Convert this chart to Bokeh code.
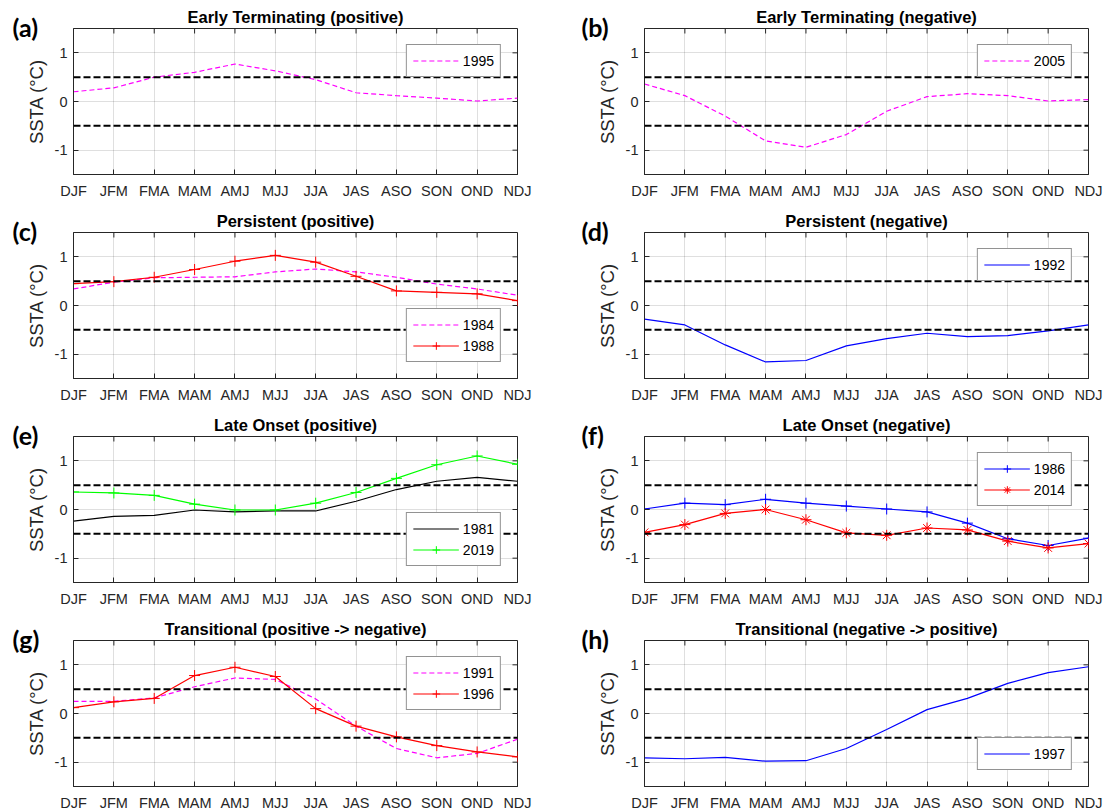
from bokeh.plotting import figure
from bokeh.layouts import gridplot
from bokeh.models import (Span, Legend, LegendItem, FixedTicker, Range1d, Title)
from bokeh.embed import file_html
from bokeh.resources import INLINE

# ---------------- data ----------------
months = ["DJF", "JFM", "FMA", "MAM", "AMJ", "MJJ",
          "JJA", "JAS", "ASO", "SON", "OND", "NDJ"]
month_idx = list(range(1, 13))
y_ticks = [-1, 0, 1]
thresholds = [0.5, -0.5]

ssta_1995 = [0.20, 0.28, 0.50, 0.60, 0.77, 0.63, 0.45, 0.18, 0.12, 0.07, 0.01, 0.07]
ssta_2005 = [0.36, 0.12, -0.30, -0.81, -0.94, -0.68, -0.20, 0.10, 0.16, 0.12, 0.01, 0.04]
ssta_1984 = [0.34, 0.48, 0.57, 0.58, 0.59, 0.69, 0.75, 0.69, 0.58, 0.44, 0.34, 0.21]
ssta_1988 = [0.45, 0.49, 0.58, 0.74, 0.91, 1.03, 0.89, 0.60, 0.30, 0.27, 0.24, 0.10]
ssta_1992 = [-0.28, -0.40, -0.81, -1.16, -1.13, -0.83, -0.68, -0.57, -0.64, -0.62, -0.52, -0.40]
ssta_1981 = [-0.24, -0.14, -0.12, -0.01, -0.05, -0.03, -0.03, 0.17, 0.41, 0.58, 0.66, 0.58]
ssta_2019 = [0.36, 0.34, 0.29, 0.11, -0.01, -0.01, 0.13, 0.35, 0.64, 0.92, 1.10, 0.93]
ssta_1986 = [0.01, 0.13, 0.10, 0.21, 0.13, 0.07, 0.01, -0.05, -0.28, -0.60, -0.74, -0.59]
ssta_2014 = [-0.47, -0.31, -0.08, 0.00, -0.21, -0.48, -0.53, -0.38, -0.42, -0.65, -0.79, -0.70]
ssta_1991 = [0.25, 0.25, 0.32, 0.55, 0.73, 0.70, 0.30, -0.26, -0.72, -0.91, -0.82, -0.53]
ssta_1996 = [0.12, 0.24, 0.31, 0.78, 0.95, 0.76, 0.10, -0.26, -0.48, -0.66, -0.79, -0.89]
ssta_1997 = [-0.91, -0.93, -0.90, -0.98, -0.97, -0.72, -0.33, 0.08, 0.31, 0.62, 0.84, 0.96]

# styles: (color, dash, marker)
MAG_DASH = ("#ff00ff", "5 3", None)
RED_PLUS = ("#ff0000", "solid", "cross")
RED_STAR = ("#ff0000", "solid", "asterisk")
BLUE = ("#0000ff", "solid", None)
BLUE_PLUS = ("#0000ff", "solid", "cross")
BLACK = ("#000000", "solid", None)
GREEN_PLUS = ("#00ff00", "solid", "cross")

panels = [
    ("(a)", "Early Terminating (positive)", [("1995", ssta_1995, MAG_DASH)], "top_right"),
    ("(b)", "Early Terminating (negative)", [("2005", ssta_2005, MAG_DASH)], "top_right"),
    ("(c)", "Persistent (positive)", [("1984", ssta_1984, MAG_DASH), ("1988", ssta_1988, RED_PLUS)], "bottom_right"),
    ("(d)", "Persistent (negative)", [("1992", ssta_1992, BLUE)], "top_right"),
    ("(e)", "Late Onset (positive)", [("1981", ssta_1981, BLACK), ("2019", ssta_2019, GREEN_PLUS)], "bottom_right"),
    ("(f)", "Late Onset (negative)", [("1986", ssta_1986, BLUE_PLUS), ("2014", ssta_2014, RED_STAR)], "top_right"),
    ("(g)", "Transitional (positive -> negative)", [("1991", ssta_1991, MAG_DASH), ("1996", ssta_1996, RED_PLUS)], "top_right"),
    ("(h)", "Transitional (negative -> positive)", [("1997", ssta_1997, BLUE)], "bottom_right"),
]

# ---------------- layout constants ----------------
FW, FH = 444, 146
X_MIN, X_MAX = 1, 12
Y_MIN, Y_MAX = -1.5, 1.5
AX = "#262626"
FONT = "Liberation Sans"
PX_X = FW / (X_MAX - X_MIN)
PX_Y = FH / (Y_MAX - Y_MIN)
TICK = 5


def make_panel(i, tag, title, series, legend_loc):
    col = i % 2
    row = i // 2
    last = row == 3
    left_border = 73 if col == 0 else 90
    p = figure(frame_width=FW, frame_height=FH,
               x_range=Range1d(X_MIN, X_MAX), y_range=Range1d(Y_MIN, Y_MAX),
               min_border_left=left_border,
               min_border_right=37 if col == 0 else 20,
               min_border_top=28, min_border_bottom=26 if last else 30,
               output_backend="svg", toolbar_location=None, tools="")
    p.background_fill_color = "white"
    p.border_fill_color = "white"
    p.outline_line_color = AX
    p.outline_line_width = 1
    p.title.text = ""

    # panel tag (inner, almost zero-height panel) and panel title (outer)
    p.add_layout(Title(text=tag, align="left", offset=-61 if col == 0 else -63,
                       vertical_align="middle", standoff=-28,
                       text_font="Lato", text_font_style="bold",
                       text_font_size="25px", text_color="#000000"), "above")
    p.add_layout(Title(text=title, align="center", vertical_align="bottom",
                       standoff=-3, text_font=FONT, text_font_style="bold",
                       text_font_size="16.5px", text_color="#000000"), "above")

    # axes
    xt = FixedTicker(ticks=month_idx)
    yt = FixedTicker(ticks=y_ticks)
    xa = p.xaxis[0]
    xa.ticker = xt
    xa.major_label_overrides = {m: lab for m, lab in zip(month_idx, months)}
    ya = p.yaxis[0]
    ya.ticker = yt
    ya.major_label_overrides = {v: str(v) for v in y_ticks}
    for ax in (xa, ya):
        ax.major_tick_in = TICK
        ax.major_tick_out = 0
        ax.minor_tick_line_color = None
        ax.axis_line_color = AX
        ax.major_tick_line_color = AX
        ax.major_label_text_color = AX
        ax.major_label_text_font = FONT
        ax.major_label_text_font_size = "14.5px"
    xa.major_label_standoff = 8
    ya.major_label_standoff = 6
    ya.axis_label = "SSTA (\u00b0C)"
    ya.axis_label_text_font = FONT
    ya.axis_label_text_font_size = "18.5px"
    ya.axis_label_text_font_style = "normal"
    ya.axis_label_text_color = AX
    ya.axis_label_standoff = 5

    # grid
    p.xgrid.ticker = xt
    p.ygrid.ticker = yt
    for g in (p.xgrid[0], p.ygrid[0]):
        g.grid_line_color = AX
        g.grid_line_alpha = 0.15

    # box ticks on top and right edges (inward)
    p.segment(x0=month_idx, y0=[Y_MAX] * len(month_idx),
              x1=month_idx, y1=[Y_MAX - TICK / PX_Y] * len(month_idx),
              line_color=AX, line_width=1)
    p.segment(x0=[X_MAX] * len(y_ticks), y0=y_ticks,
              x1=[X_MAX - TICK / PX_X] * len(y_ticks), y1=y_ticks,
              line_color=AX, line_width=1)

    # thresholds
    for t in thresholds:
        p.add_layout(Span(location=t, dimension="width", line_color="#000000",
                          line_width=2, line_dash="7 3"))

    items = []
    for name, vals, (color, dash, marker) in series:
        r = p.line(month_idx, vals, line_color=color, line_width=1.2, line_dash=dash)
        rs = [r]
        if marker is not None:
            s = p.scatter(month_idx, vals, marker=marker, size=11,
                          line_color=color, fill_color=None, line_width=1)
            rs.append(s)
        items.append(LegendItem(label=name, renderers=rs))

    leg = Legend(items=items, location=legend_loc, margin=16,
                 border_line_color=AX, border_line_width=1,
                 background_fill_color="white", background_fill_alpha=1,
                 label_text_font=FONT, label_text_font_size="14px",
                 label_text_color="#000000",
                 glyph_width=46, glyph_height=19, label_height=19,
                 label_standoff=4, padding=6, spacing=2)
    p.add_layout(leg, "center")
    return p


figs = [make_panel(i, *cfg) for i, cfg in enumerate(panels)]
grid = gridplot([[figs[0], figs[1]], [figs[2], figs[3]],
                 [figs[4], figs[5]], [figs[6], figs[7]]],
                toolbar_location=None)

open("out.html", "w").write(file_html(grid, INLINE))
